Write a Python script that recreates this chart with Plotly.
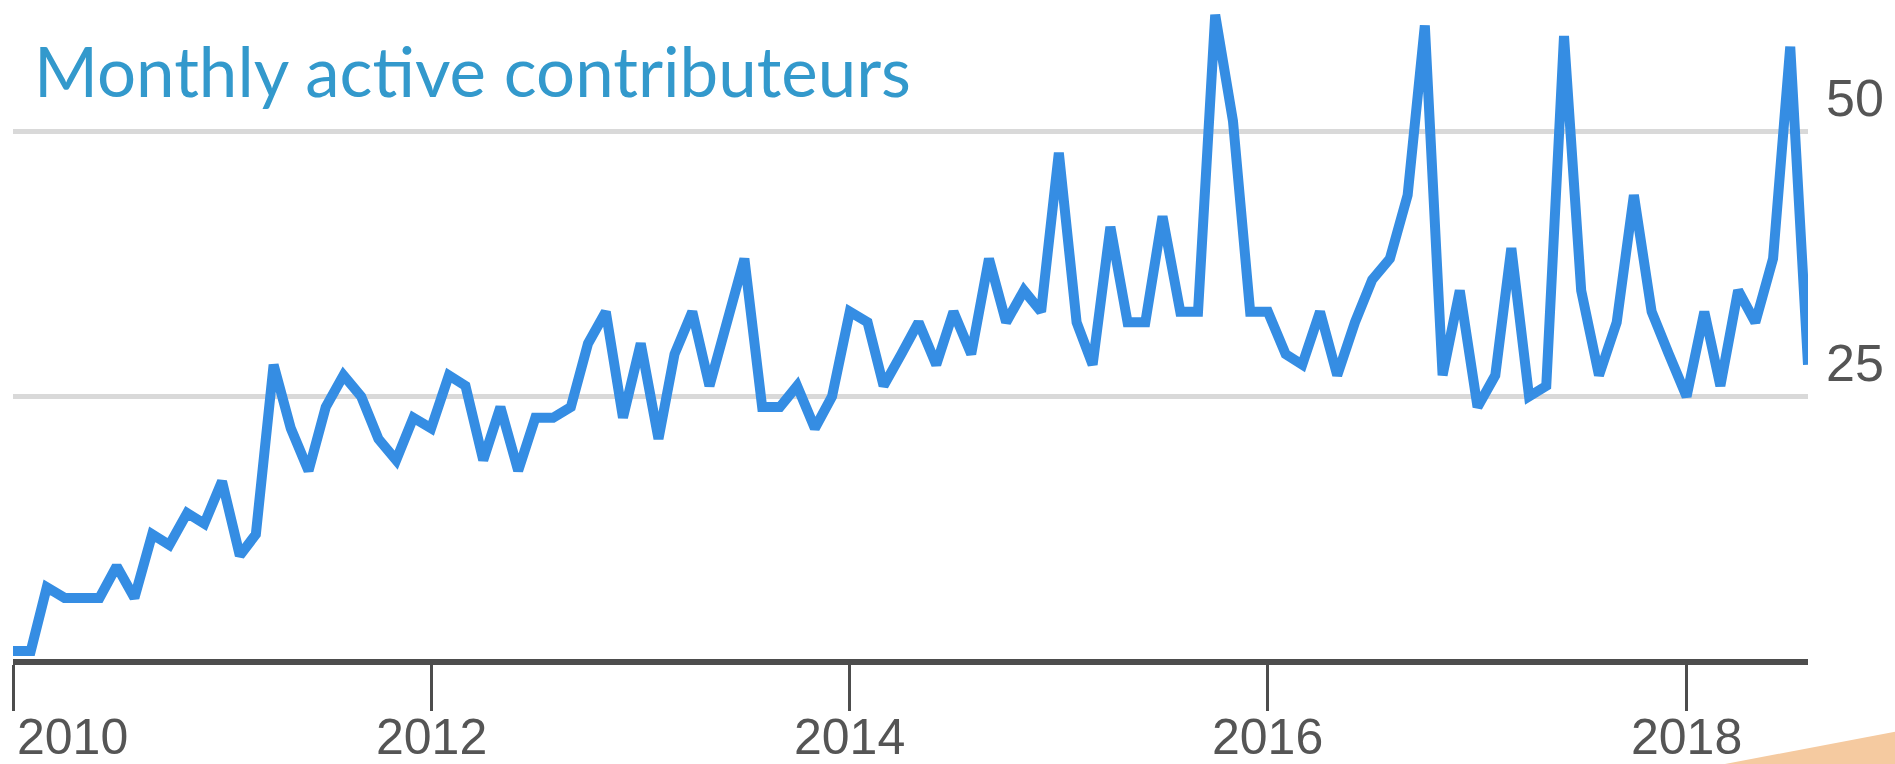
import pandas as pd
import plotly.graph_objects as go

# ---- data (monthly active contributors) ----
start_month = "2010-01-01"
contributors = [
    1, 1, 7, 6, 6, 6, 9, 6, 12, 11, 14, 13,          # 2010
    17, 10, 12, 28, 22, 18, 24, 27, 25, 21, 19, 23,  # 2011
    22, 27, 26, 19, 24, 18, 23, 23, 24, 30, 33, 23,  # 2012
    30, 21, 29, 33, 26, 32, 38, 24, 24, 26, 22, 25,  # 2013
    33, 32, 26, 29, 32, 28, 33, 29, 38, 32, 35, 33,  # 2014
    48, 32, 28, 41, 32, 32, 42, 33, 33, 61, 51, 33,  # 2015
    33, 29, 28, 33, 27, 32, 36, 38, 44, 60, 27, 35,  # 2016
    24, 27, 39, 25, 26, 59, 35, 27, 32, 44, 33, 29,  # 2017
    25, 33, 26, 35, 32, 38, 58, 28,                  # 2018
]
x_tick_dates = ["2010-01-01", "2012-01-01", "2014-01-01", "2016-01-01", "2018-01-01"]
x_tick_labels = ["2010", "2012", "2014", "2016", "2018"]
y_tick_values = [0, 25, 50]
y_tick_labels = ["0", "25", "50"]
title_text = "Monthly active contributeurs"

months = pd.date_range(start_month, periods=len(contributors), freq="MS")

# ---- layout geometry (pixels) ----
W, H = 1895, 764
ML, MR, MT, MB = 13, 87, 0, 105
plot_w = W - ML - MR
plot_h = H - MT - MB
px_per_unit = 10.6
y_min = 0.236
y_max = y_min + plot_h / px_per_unit

AXIS_GREY = "#4d4d4d"
LABEL_GREY = "#555555"
LINE_BLUE = "#358de3"
TITLE_BLUE = "#3399cc"

fig = go.Figure()
fig.add_trace(go.Scatter(
    x=months, y=contributors, mode="lines",
    line=dict(color=LINE_BLUE, width=10),
    hoverinfo="skip", showlegend=False,
))

fig.update_layout(
    width=W, height=H,
    margin=dict(l=ML, r=MR, t=MT, b=MB, pad=0),
    paper_bgcolor="white", plot_bgcolor="white",
    showlegend=False,
    xaxis=dict(
        type="date",
        range=[months[0], months[-1]],
        tickvals=x_tick_dates,
        showticklabels=False,
        ticks="outside", ticklen=46, tickwidth=3, tickcolor=AXIS_GREY,
        showline=True, linewidth=5.5, linecolor=AXIS_GREY,
        showgrid=False, zeroline=False,
        fixedrange=True,
    ),
    yaxis=dict(
        range=[y_min, y_max],
        tickvals=y_tick_values,
        showticklabels=False,
        side="right",
        showgrid=True, gridcolor="#d9d9d9", gridwidth=5,
        zeroline=False, showline=False, ticks="",
        fixedrange=True,
    ),
)

annotations = []
# x tick labels
for i, (d, lab) in enumerate(zip(x_tick_dates, x_tick_labels)):
    annotations.append(dict(
        x=d, xref="x", y=0, yref="paper",
        text=lab, showarrow=False,
        xanchor="left" if i == 0 else "center",
        xshift=2 if i == 0 else 0,
        yanchor="middle", yshift=-78,
        font=dict(family="Liberation Sans, Arial, sans-serif", size=50, color=LABEL_GREY),
    ))
# y tick labels (right side, right-aligned, above their gridlines)
for v, lab in zip(y_tick_values, y_tick_labels):
    annotations.append(dict(
        x=1, xref="paper", xshift=78, xanchor="right",
        y=v, yref="y", yanchor="middle", yshift=34,
        text=lab, showarrow=False,
        font=dict(family="Liberation Sans, Arial, sans-serif", size=52, color=LABEL_GREY),
    ))
# title
annotations.append(dict(
    x=0, xref="paper", xshift=19, xanchor="left",
    y=1, yref="paper", yanchor="top", yshift=-27,
    text=title_text, showarrow=False,
    font=dict(family="Lato, sans-serif", size=69, color=TITLE_BLUE),
))
fig.update_layout(annotations=annotations)

# decorative peach wedge at the bottom-right corner
def px_to_paper(px, py):
    return (px - ML) / plot_w, (H - MB - py) / plot_h

wedge_px = [(1725, 764), (1895, 731.7), (1895, 764)]
pts = [px_to_paper(a, b) for a, b in wedge_px]
path = "M " + " L ".join(f"{a:.5f} {b:.5f}" for a, b in pts) + " Z"
fig.add_shape(type="path", path=path, xref="paper", yref="paper",
              fillcolor="#f5caa0", line=dict(width=0), layer="above")

fig.write_html(
    "out.html",
    config={"displayModeBar": False},
    post_script="document.body.style.margin='0';document.body.style.overflow='hidden';",
)
